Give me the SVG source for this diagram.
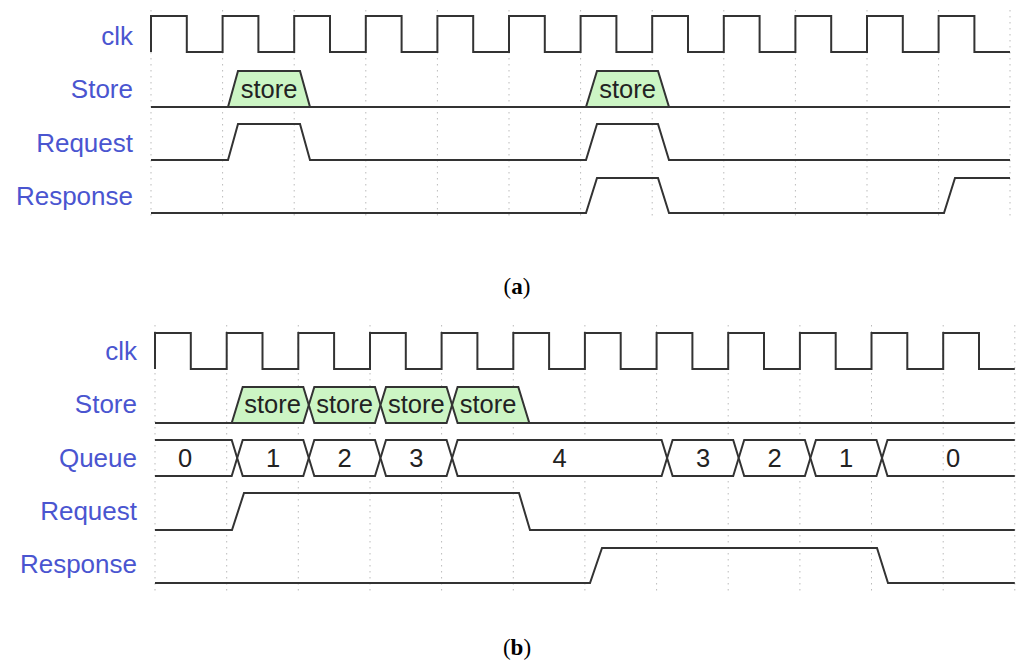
<svg xmlns="http://www.w3.org/2000/svg" width="1016" height="660" viewBox="0 0 1016 660">
<style>
.lbl{font-family:"Liberation Sans",Arial,sans-serif;font-size:26px;fill:#4a55d0;text-anchor:end}
.val{font-family:"Liberation Sans",Arial,sans-serif;font-size:25.5px;fill:#222;text-anchor:middle}
.w{fill:none;stroke:#333;stroke-width:2;stroke-linejoin:miter}
.box{fill:#ccf5c4;stroke:#333;stroke-width:2}
.qbox{fill:#fff;stroke:#333;stroke-width:2}
.grid{stroke:#bbb;stroke-width:1;stroke-dasharray:1.5 4.5}
.cap{font-family:"Liberation Serif","Times New Roman",serif;font-size:23px;fill:#000;text-anchor:middle}
</style>
<rect width="1016" height="660" fill="#fff"/>

<g id="grid-a">
<path class="grid" d="M151,10V218M222.6,10V218M294.2,10V218M365.8,10V218M437.4,10V218M509,10V218M580.6,10V218M652.2,10V218M723.8,10V218M795.4,10V218M867,10V218M938.6,10V218M1010,10V218"/>
</g>
<g id="grid-b">
<path class="grid" d="M155,325V592M226.7,325V592M298.3,325V592M370,325V592M441.6,325V592M513.3,325V592M584.9,325V592M656.6,325V592M728.2,325V592M799.9,325V592M871.5,325V592M943.2,325V592M1014.8,325V592"/>
</g>

<!-- Panel (a) -->
<g id="a-clk">
<text class="lbl" x="133" y="45">clk</text>
<path class="w" d="M151,52V16H186.8V52H222.6V16H258.4V52H294.2V16H330V52H365.8V16H401.6V52H437.4V16H473.2V52H509V16H544.8V52H580.6V16H616.4V52H652.2V16H688V52H723.8V16H759.6V52H795.4V16H831.2V52H867V16H902.8V52H938.6V16H974.4V52H1010"/>
</g>
<g id="a-store">
<text class="lbl" x="133" y="98">Store</text>
<path class="w" d="M151,107H1010"/>
<polygon class="box" points="228,107 238,71 300,71 310,107"/>
<polygon class="box" points="586,107 597,71 658,71 669,107"/>
<text class="val" x="269" y="98">store</text>
<text class="val" x="627.5" y="98">store</text>
</g>
<g id="a-request">
<text class="lbl" x="133" y="152">Request</text>
<path class="w" d="M151,160H228L238,124H300L310,160H586L597,124H658L669,160H1010"/>
</g>
<g id="a-response">
<text class="lbl" x="133" y="205">Response</text>
<path class="w" d="M151,213H586L597,178H658L669,213H944L955,178H1010"/>
</g>
<g id="cap-a">
<text class="cap" x="517" y="294">(<tspan font-weight="bold">a</tspan>)</text>
</g>

<!-- Panel (b) -->
<g id="b-clk">
<text class="lbl" x="137" y="360">clk</text>
<path class="w" d="M155,369V333H190.8V369H226.7V333H262.5V369H298.3V333H334.1V369H370V333H405.8V369H441.6V333H477.4V369H513.3V333H549.1V369H584.9V333H620.7V369H656.6V333H692.4V369H728.2V333H764V369H799.9V333H835.7V369H871.5V333H907.3V369H943.2V333H979V369H1014.8"/>
</g>
<g id="b-store">
<text class="lbl" x="137" y="413">Store</text>
<path class="w" d="M155,423H232M529.3,423H1014.8"/>
<polygon class="box" points="231.7,423 242.7,387 303.3,387 308.8,405 303.3,423"/>
<polygon class="box" points="308.8,405 314.3,387 375,387 380.5,405 375,423 314.3,423"/>
<polygon class="box" points="380.5,405 386,387 446.6,387 452.1,405 446.6,423 386,423"/>
<polygon class="box" points="452.1,405 457.6,387 518.3,387 529.3,423 457.6,423"/>
<text class="val" x="272.5" y="413">store</text>
<text class="val" x="344.6" y="413">store</text>
<text class="val" x="416.3" y="413">store</text>
<text class="val" x="488" y="413">store</text>
</g>
<g id="b-queue">
<text class="lbl" x="137" y="467">Queue</text>
<path class="w" d="M155,440H231.7L237.2,458L231.7,476H155"/>
<polygon class="qbox" points="237.2,458 242.7,440 303.3,440 308.8,458 303.3,476 242.7,476"/>
<polygon class="qbox" points="308.8,458 314.3,440 375,440 380.5,458 375,476 314.3,476"/>
<polygon class="qbox" points="380.5,458 386,440 446.6,440 452.1,458 446.6,476 386,476"/>
<polygon class="qbox" points="452.1,458 457.6,440 661.6,440 667.1,458 661.6,476 457.6,476"/>
<polygon class="qbox" points="667.1,458 672.6,440 733.2,440 738.7,458 733.2,476 672.6,476"/>
<polygon class="qbox" points="738.7,458 744.2,440 804.9,440 810.4,458 804.9,476 744.2,476"/>
<polygon class="qbox" points="810.4,458 815.9,440 876.5,440 882,458 876.5,476 815.9,476"/>
<path class="w" d="M1014.8,440H887.5L882,458L887.5,476H1014.8"/>
<text class="val" x="185" y="467">0</text>
<text class="val" x="273" y="467">1</text>
<text class="val" x="344.6" y="467">2</text>
<text class="val" x="416.3" y="467">3</text>
<text class="val" x="559.6" y="467">4</text>
<text class="val" x="703" y="467">3</text>
<text class="val" x="774.5" y="467">2</text>
<text class="val" x="846.2" y="467">1</text>
<text class="val" x="953" y="467">0</text>
</g>
<g id="b-request">
<text class="lbl" x="137" y="520">Request</text>
<path class="w" d="M155,530H232L244,493H519L530,530H1014.8"/>
</g>
<g id="b-response">
<text class="lbl" x="137" y="573">Response</text>
<path class="w" d="M155,583H590L602,548H877L888,583H1014.8"/>
</g>
<g id="cap-b">
<text class="cap" x="517" y="655">(<tspan font-weight="bold">b</tspan>)</text>
</g>
</svg>
